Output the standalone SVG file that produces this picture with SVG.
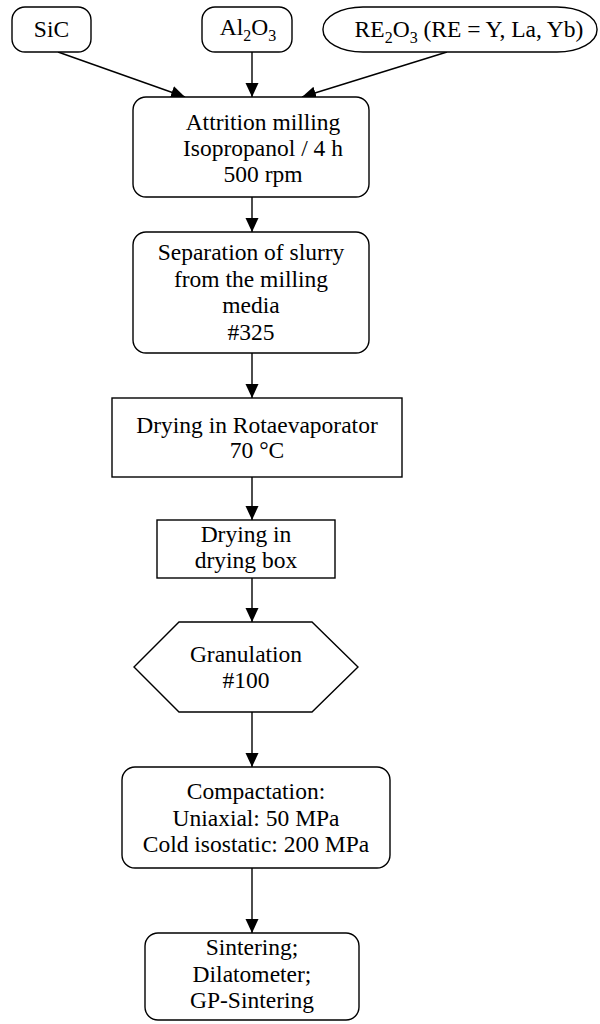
<svg xmlns="http://www.w3.org/2000/svg" width="600" height="1024" viewBox="0 0 600 1024">
<style>
.box{fill:#fff;stroke:#000;stroke-width:1.4}
.t{font-family:"Liberation Serif","Times New Roman",serif;font-size:23.5px;fill:#000;text-anchor:middle}
.sub{font-size:16px}
.c{stroke:#000;stroke-width:1.4;fill:none;marker-end:url(#ah)}
</style>
<defs>
<marker id="ah" markerUnits="userSpaceOnUse" markerWidth="16" markerHeight="14" refX="14" refY="6.5" orient="auto">
<path d="M0,0 L14,6.5 L0,13 Z" fill="#000"/>
</marker>
</defs>
<rect width="600" height="1024" fill="#fff"/>
<g id="connectors">
<line class="c" x1="58" y1="52" x2="185" y2="97"/>
<line class="c" x1="252" y1="52" x2="252" y2="97"/>
<line class="c" x1="447" y1="52" x2="302" y2="97"/>
<line class="c" x1="252" y1="197" x2="252" y2="232"/>
<line class="c" x1="252" y1="353" x2="252" y2="398"/>
<line class="c" x1="252" y1="477" x2="252" y2="520"/>
<line class="c" x1="252" y1="578" x2="252" y2="622"/>
<line class="c" x1="252" y1="712" x2="252" y2="767"/>
<line class="c" x1="252" y1="868" x2="252" y2="933"/>
</g>
<g id="sic">
<rect class="box" x="12" y="7" width="79" height="45" rx="13"/>
<text class="t" x="51.5" y="37">SiC</text>
</g>
<g id="al2o3">
<rect class="box" x="202" y="7" width="90" height="45" rx="13"/>
<text class="t" x="248" y="35">Al<tspan class="sub" dy="6">2</tspan><tspan dy="-6">O</tspan><tspan class="sub" dy="6">3</tspan></text>
</g>
<g id="re2o3">
<rect class="box" x="323" y="7" width="274" height="45" rx="40" ry="22"/>
<text class="t" x="469" y="37">RE<tspan class="sub" dy="6">2</tspan><tspan dy="-6">O</tspan><tspan class="sub" dy="6">3</tspan><tspan dy="-6"> (RE = Y, La, Yb)</tspan></text>
</g>
<g id="attrition">
<rect class="box" x="133" y="97" width="236" height="100" rx="13"/>
<text class="t" x="263" y="130">Attrition milling</text>
<text class="t" x="263" y="156">Isopropanol / 4 h</text>
<text class="t" x="263" y="182">500 rpm</text>
</g>
<g id="separation">
<rect class="box" x="133" y="232" width="236" height="121" rx="13"/>
<text class="t" x="251" y="260">Separation of slurry</text>
<text class="t" x="251" y="287">from the milling</text>
<text class="t" x="251" y="313">media</text>
<text class="t" x="251" y="340">#325</text>
</g>
<g id="rotaevaporator">
<rect class="box" x="112" y="398" width="290" height="79"/>
<text class="t" x="257" y="433">Drying in Rotaevaporator</text>
<text class="t" x="257" y="458">70 °C</text>
</g>
<g id="dryingbox">
<rect class="box" x="157" y="520" width="178" height="58"/>
<text class="t" x="246" y="542">Drying in</text>
<text class="t" x="246" y="568">drying box</text>
</g>
<g id="granulation">
<polygon class="box" points="134,667 179,622 312,622 358,667 312,712 179,712"/>
<text class="t" x="246" y="662">Granulation</text>
<text class="t" x="246" y="688">#100</text>
</g>
<g id="compactation">
<rect class="box" x="122" y="767" width="268" height="101" rx="13"/>
<text class="t" x="256" y="799">Compactation:</text>
<text class="t" x="256" y="826">Uniaxial: 50 MPa</text>
<text class="t" x="256" y="852">Cold isostatic: 200 MPa</text>
</g>
<g id="sintering">
<rect class="box" x="145" y="933" width="214" height="87" rx="13"/>
<text class="t" x="252" y="955">Sintering;</text>
<text class="t" x="252" y="982">Dilatometer;</text>
<text class="t" x="252" y="1008">GP-Sintering</text>
</g>
</svg>
